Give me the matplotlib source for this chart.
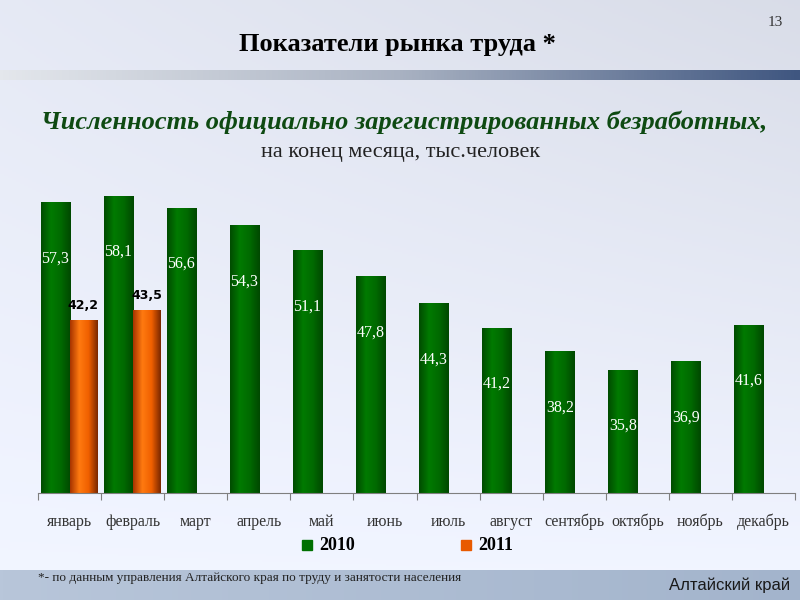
import numpy as np
import matplotlib.pyplot as plt
from matplotlib.colors import LinearSegmentedColormap

months = ["январь", "февраль", "март", "апрель", "май", "июнь",
          "июль", "август", "сентябрь", "октябрь", "ноябрь", "декабрь"]
values_2010 = [57.3, 58.1, 56.6, 54.3, 51.1, 47.8, 44.3, 41.2, 38.2, 35.8, 36.9, 41.6]
values_2011 = [42.2, 43.5]

green_cmap = LinearSegmentedColormap.from_list("g", ["#004c00", "#007a00", "#006a00", "#004800"])
orange_cmap = LinearSegmentedColormap.from_list("o", ["#a83400", "#ff7a10", "#f06000", "#7a2800"])

fig = plt.figure(figsize=(8, 6), dpi=100)

# background
bg = fig.add_axes([0, 0, 1, 1], zorder=-10)
yy, xx = np.mgrid[0:1:300j, 0:1:400j]
base = 0.93 + 0.05 * (1 - yy) - 0.05 * xx * yy
bg_rgb = np.dstack([base - 0.03, base - 0.015, np.minimum(base + 0.03, 1)])
bg.imshow(np.clip(bg_rgb, 0, 1), extent=[0, 1, 0, 1], aspect="auto", origin="lower")
band = np.linspace(0, 1, 256)[None, :]
band_cmap = LinearSegmentedColormap.from_list("b", ["#e4e7ec", "#a9b2c2", "#3f5680"])
bg.imshow(band, extent=[0, 1, 1 - 80 / 600, 1 - 70 / 600], aspect="auto", cmap=band_cmap)
bottom_cmap = LinearSegmentedColormap.from_list("bb", ["#b8c6da", "#a3b4cc"])
bg.imshow(band, extent=[0, 1, 0, 30 / 600], aspect="auto", cmap=bottom_cmap)
bg.set_xlim(0, 1)
bg.set_ylim(0, 1)
bg.axis("off")

ax = fig.add_axes([38 / 800, 107 / 600, 757 / 800, 312 / 600])
ax.patch.set_alpha(0)

x = np.arange(len(months))
bw = 0.46
grad = np.linspace(0, 1, 64)[None, :]


def gradient_bars(bars, cmap):
    for b in bars:
        x0, y0 = b.get_x(), b.get_y()
        im = ax.imshow(grad, extent=[x0, x0 + b.get_width(), y0, y0 + b.get_height()],
                       aspect="auto", cmap=cmap, zorder=2)
        im.set_clip_path(b)


ymin = 20
g = ax.bar(x - 0.23, np.array(values_2010) - ymin, bw, bottom=ymin,
           color="#006a00", label="2010", zorder=2)
o = ax.bar(x[:2] + 0.22, np.array(values_2011) - ymin, 0.44, bottom=ymin,
           color="#f06000", label="2011", zorder=2)
gradient_bars(g, green_cmap)
gradient_bars(o, orange_cmap)

for xi, v in zip(x, values_2010):
    ax.text(xi - 0.23, v - 7.2, f"{v:.1f}".replace(".", ","), ha="center", va="center",
            color="white", fontsize=11.5, family="Liberation Serif", zorder=3)
for xi, v in zip(x[:2], values_2011):
    ax.text(xi + 0.22, v + 1.8, f"{v:.1f}".replace(".", ","), ha="center", va="center",
            color="black", fontsize=9, fontweight="bold", family="DejaVu Sans", zorder=3)

ax.set_xlim(-0.5, 11.5)
ax.set_ylim(ymin, 60)
ax.set_yticks([])
for s in ["left", "right", "top"]:
    ax.spines[s].set_visible(False)
ax.spines["bottom"].set_color("#7f7f7f")
ax.set_xticks(np.arange(-0.5, 12, 1))
ax.set_xticklabels([])
ax.tick_params(axis="x", length=5, color="#7f7f7f", direction="out")
for xi, m in zip(x, months):
    ax.text(xi, ymin - 3.7, m, ha="center", va="center", fontsize=11.5,
            family="Liberation Serif", color="#333333")

# legend
fig.patches.append(plt.Rectangle((302 / 800, 1 - 550 / 600), 10 / 800, 10 / 600,
                                 transform=fig.transFigure, color="#007000"))
fig.text(319 / 800, 1 - 545 / 600, "2010", fontsize=13, fontweight="bold",
         family="Liberation Serif", va="center")
fig.patches.append(plt.Rectangle((461 / 800, 1 - 550 / 600), 10 / 800, 10 / 600,
                                 transform=fig.transFigure, color="#e85a00"))
fig.text(478 / 800, 1 - 545 / 600, "2011", fontsize=13, fontweight="bold",
         family="Liberation Serif", va="center")

fig.text(775 / 800, 1 - 22 / 600, "13", fontsize=11, family="Liberation Serif",
         ha="center", va="center", color="#333333")
fig.text(397 / 800, 1 - 45 / 600, "Показатели рынка труда *", fontsize=19,
         fontweight="bold", family="Liberation Serif", ha="center", va="center")
fig.text(404 / 800, 1 - 122 / 600, "Численность официально зарегистрированных безработных,",
         fontsize=19, fontweight="bold", style="italic", family="Liberation Serif",
         ha="center", va="center", color="#0e4a12")
fig.text(401 / 800, 1 - 153 / 600, "на конец месяца, тыс.человек", fontsize=16,
         family="Liberation Serif", ha="center", va="center", color="#222222")
fig.text(38 / 800, 1 - 578 / 600,
         "*- по данным управления Алтайского края по труду и занятости населения",
         fontsize=9.5, family="Liberation Serif", va="center", color="#222222")
fig.text(790 / 800, 1 - 585 / 600, "Алтайский край", fontsize=12,
         family="Liberation Sans", ha="right", va="center", color="#1a1a1a")

fig.savefig("out.png", dpi=100)
